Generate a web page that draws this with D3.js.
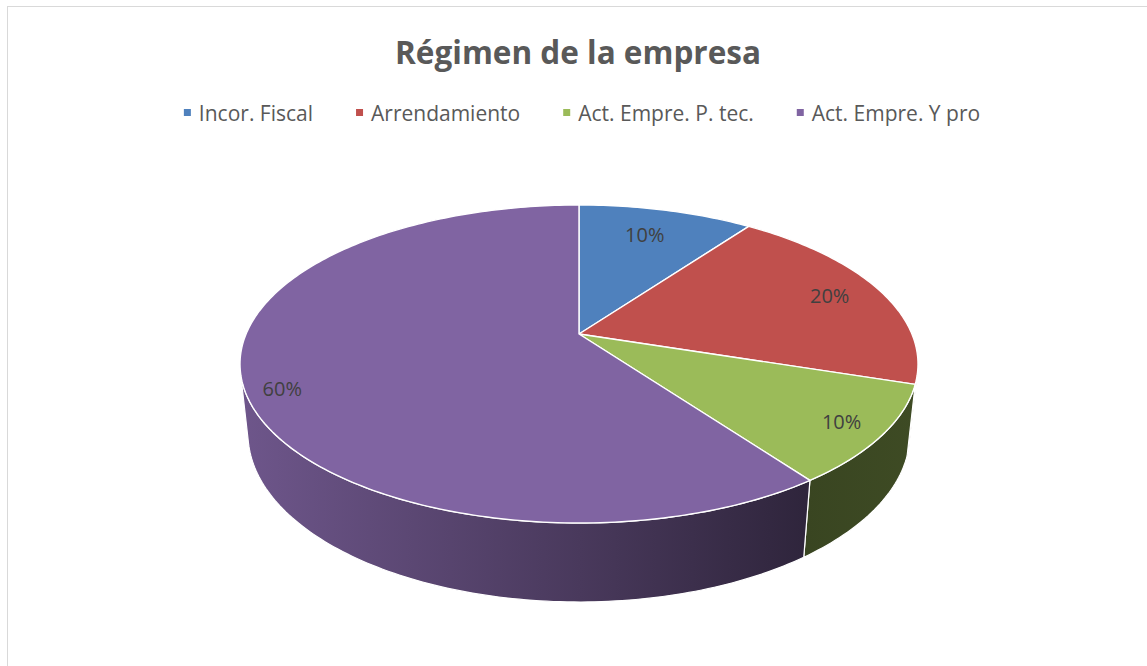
<!DOCTYPE html>
<html>
<head>
<meta charset="utf-8">
<script src="https://cdn.jsdelivr.net/npm/d3@7"></script>
<style>
    html, body { margin: 0; padding: 0; background: #fff; }
    svg { display: block; }
</style>
</head>
<body>
<svg id="chart" width="1147" height="666"></svg>
<script>
'use strict';

// ---- data ----
var titleText  = "Régimen de la empresa";
var categories = ["Incor. Fiscal", "Arrendamiento", "Act. Empre. P. tec.", "Act. Empre. Y pro"];
var values     = [10, 20, 10, 60];
var colors     = ["#4f81bd", "#c0504d", "#9bbb59", "#8064a2"];

// ---- layout ----
var width = 1147, height = 666;
var textColor = "#595959";

// 3d projection settings (camera looking down on the disc, with perspective)
var cx = 579, cy = 334;
var F = 1566, D = 4.704, H = 0.238;
var sinP = 0.4606, cosP = Math.sqrt(1 - sinP * sinP);

// label placement inside slices (angle shift in degrees, radius fraction)
var labelPlace = [
    { shift: -1,  r: 0.77 },
    { shift: 0,   r: 0.83 },
    { shift: 0,   r: 0.88 },
    { shift: -4,  r: 0.90 }
];

var svg = d3.select("#chart");

// chart border
svg.append("rect")
    .attr("x", 7.5).attr("y", 6.5)
    .attr("width", width + 20).attr("height", height + 20)
    .attr("fill", "none")
    .attr("stroke", "#d9d9d9")
    .attr("stroke-width", 1);

// title
svg.append("text")
    .attr("x", 578).attr("y", 64)
    .attr("text-anchor", "middle")
    .style("font-family", "'Open Sans', sans-serif")
    .style("font-weight", "bold")
    .style("font-size", "31.5px")
    .style("fill", textColor)
    .text(titleText);

/*=====  legend  ======*/
var legend = svg.append("g").attr("class", "legend");
var items = legend.selectAll("g.item")
    .data(categories)
    .enter().append("g").attr("class", "item");

items.append("rect")
    .attr("width", 7).attr("height", 7)
    .attr("y", -4)
    .attr("fill", function (d, i) { return colors[i]; });

items.append("text")
    .attr("x", 15).attr("y", 8)
    .style("font-family", "'Open Sans', sans-serif")
    .style("font-size", "21px")
    .style("fill", textColor)
    .text(function (d) { return d; });

// place legend items next to each other, centred
var gap = 43, offs = [], total = 0;
items.each(function (d, i) {
    var w = 15 + d3.select(this).select("text").node().getComputedTextLength();
    offs.push(total);
    total += w + (i < categories.length - 1 ? gap : 0);
});
var legendX = 582 - total / 2;
items.attr("transform", function (d, i) {
    return "translate(" + (legendX + offs[i]) + ",113)";
});

/*=====  pie  ======*/
function project(theta, r, y) {
    var x = r * Math.sin(theta), z = -r * Math.cos(theta);
    var depth = D - (y * sinP + z * cosP);
    return [cx + F * x / depth, cy - F * (y * cosP - z * sinP) / depth];
}

function arcPoints(a0, a1, r, y) {
    var pts = [], n = Math.max(2, Math.ceil((a1 - a0) / (Math.PI / 180)));
    for (var k = 0; k <= n; k++) {
        pts.push(project(a0 + (a1 - a0) * k / n, r, y));
    }
    return pts;
}

var pie = d3.pie().sort(null).value(function (d) { return d; });
var arcs = pie(values);
var line = d3.line();

// side shading follows horizontal position (light on the left)
var shade = d3.scaleLinear()
    .domain([240, 580, 805, 918])
    .range([0.86, 0.57, 0.37, 0.40]);

function shadeColor(c, f) {
    var rgb = d3.rgb(c);
    return d3.rgb(rgb.r * f, rgb.g * f, rgb.b * f).formatHex();
}

var defs = svg.append("defs");
arcs.forEach(function (a, i) {
    var g = defs.append("linearGradient")
        .attr("id", "side-" + i)
        .attr("gradientUnits", "userSpaceOnUse")
        .attr("x1", 240).attr("x2", 918)
        .attr("y1", 0).attr("y2", 0);
    shade.domain().forEach(function (x) {
        g.append("stop")
            .attr("offset", (x - 240) / (918 - 240))
            .attr("stop-color", shadeColor(colors[i], shade(x)));
    });
});

// visible part of the outer wall
var tVis = Math.acos(-1 / (D * cosP));
var sides = svg.append("g").attr("class", "sides");
arcs.forEach(function (a, i) {
    var s0 = Math.max(a.startAngle, tVis), s1 = Math.min(a.endAngle, 2 * Math.PI - tVis);
    if (s1 <= s0) return;
    var pts = arcPoints(s0, s1, 1, 0).concat(arcPoints(s0, s1, 1, -H).reverse());
    sides.append("path")
        .attr("d", line(pts) + "Z")
        .attr("fill", "url(#side-" + i + ")")
        .attr("stroke", "#fff")
        .attr("stroke-width", 1.2)
        .attr("stroke-linejoin", "round");
});

// top faces
var tops = svg.append("g").attr("class", "tops");
arcs.forEach(function (a, i) {
    var pts = [project(0, 0, 0)].concat(arcPoints(a.startAngle, a.endAngle, 1, 0));
    tops.append("path")
        .attr("d", line(pts) + "Z")
        .attr("fill", colors[i])
        .attr("stroke", "#fff")
        .attr("stroke-width", 1.4)
        .attr("stroke-linejoin", "round");
});

// data labels
var total100 = d3.sum(values);
var labels = svg.append("g").attr("class", "labels");
arcs.forEach(function (a, i) {
    var mid = (a.startAngle + a.endAngle) / 2 + labelPlace[i].shift * Math.PI / 180;
    var p = project(mid, labelPlace[i].r, 0);
    labels.append("text")
        .attr("x", p[0]).attr("y", p[1])
        .attr("dy", "0.35em")
        .attr("text-anchor", "middle")
        .style("font-family", "'Open Sans', sans-serif")
        .style("font-size", "20px")
        .style("fill", "#404040")
        .text(Math.round(a.value / total100 * 100) + "%");
});
</script>
</body>
</html>
